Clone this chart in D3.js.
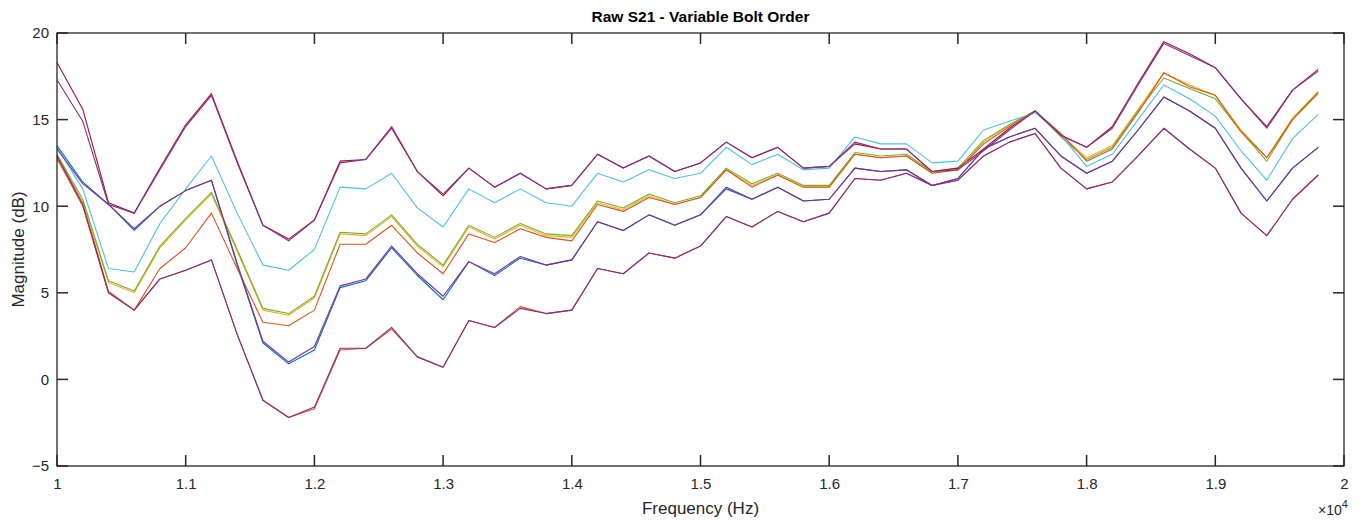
<!DOCTYPE html>
<html>
<head>
<meta charset="utf-8">
<script src="https://cdn.jsdelivr.net/npm/d3@7"></script>
<style>
  html, body { margin: 0; padding: 0; background: #fff; }
  svg { display: block; font-family: "Liberation Sans", Arial, Helvetica, sans-serif; }
</style>
</head>
<body>
<svg id="chart" width="1362" height="520"></svg>
<script>
// ---- Data ----
const freqStartHz = 10000;
const freqStepHz = 200;
const pointCount = 50;
const xTicks = [1, 1.1, 1.2, 1.3, 1.4, 1.5, 1.6, 1.7, 1.8, 1.9, 2];
const yTicks = [-5, 0, 5, 10, 15, 20];
const titleText = "Raw S21 - Variable Bolt Order";
const xLabelText = "Frequency (Hz)";
const yLabelText = "Magnitude (dB)";

const seriesBlueA   = [13.5,11.4,10.1,8.6,10.0,10.9,11.5,6.6,2.1,0.9,1.7,5.3,5.7,7.6,6.0,4.6,6.8,6.0,7.0,6.6,6.9,9.1,8.6,9.5,8.9,9.5,11.0,10.4,11.1,10.3,10.4,12.2,12.0,12.1,11.2,11.6,13.3,14.0,14.5,12.9,11.9,12.6,14.4,16.3,15.5,14.5,12.2,10.3,12.2,13.4];
const seriesOrangeA = [12.9,10.2,5.1,4.0,5.8,6.3,6.9,2.6,-1.2,-2.2,-1.7,1.7,1.8,2.9,1.3,0.7,3.4,3.0,4.2,3.8,4.0,6.4,6.1,7.3,7.0,7.7,9.4,8.8,9.7,9.1,9.6,11.6,11.5,11.9,11.2,11.5,12.9,13.7,14.2,12.2,11.0,11.4,12.9,14.5,13.3,12.2,9.6,8.3,10.4,11.8];
const seriesYellow  = [12.7,10.2,5.6,5.0,7.6,9.2,10.7,7.4,4.0,3.7,4.7,8.4,8.3,9.4,7.7,6.5,8.8,8.1,8.9,8.3,8.2,10.2,9.8,10.6,10.1,10.5,12.1,11.2,11.8,11.1,11.1,13.0,12.8,12.9,11.9,12.1,13.7,14.7,15.5,14.1,12.8,13.5,15.6,17.7,17.0,16.4,14.4,12.8,15.1,16.6];
const seriesPurpleA = [17.3,14.9,10.1,9.6,12.1,14.6,16.4,12.5,8.9,8.0,9.2,12.5,12.7,14.6,12.0,10.7,12.2,11.1,11.9,11.0,11.2,13.0,12.2,12.9,12.0,12.5,13.7,12.8,13.4,12.2,12.3,13.7,13.3,13.3,12.0,12.1,13.2,14.4,15.5,14.1,13.4,14.5,17.0,19.4,18.7,18.0,16.2,14.5,16.7,17.8];
const seriesGreen   = [13.0,10.4,5.7,5.1,7.7,9.3,10.8,7.5,4.1,3.8,4.8,8.5,8.4,9.5,7.8,6.6,8.9,8.2,9.0,8.4,8.3,10.3,9.9,10.7,10.2,10.6,12.2,11.3,11.9,11.2,11.2,13.1,12.9,13.0,12.0,12.2,13.8,14.7,15.5,14.0,12.7,13.4,15.5,17.4,16.8,16.2,14.3,12.6,15.0,16.5];
const seriesLightBlue = [13.4,11.0,6.4,6.2,9.0,11.0,12.9,9.6,6.6,6.3,7.5,11.1,11.0,11.9,9.9,8.8,11.0,10.2,11.0,10.2,10.0,11.9,11.4,12.1,11.6,11.9,13.4,12.4,13.0,12.1,12.2,14.0,13.6,13.6,12.5,12.6,14.4,14.9,15.4,14.1,12.3,13.0,15.0,17.0,16.2,15.2,13.2,11.5,13.9,15.3];
const seriesDarkRed = [18.3,15.6,10.2,9.6,12.2,14.7,16.5,12.6,8.9,8.1,9.2,12.6,12.7,14.5,12.0,10.6,12.2,11.1,11.9,11.0,11.2,13.0,12.2,12.9,12.0,12.5,13.7,12.8,13.4,12.2,12.3,13.6,13.3,13.3,12.0,12.2,13.3,14.5,15.5,14.1,13.4,14.6,17.1,19.5,18.8,18.0,16.2,14.6,16.7,17.9];
const seriesOrangeB = [12.8,10.0,5.0,4.0,6.4,7.6,9.6,6.4,3.3,3.1,4.0,7.8,7.8,8.9,7.3,6.1,8.4,7.9,8.7,8.2,8.0,10.1,9.7,10.5,10.1,10.5,12.1,11.1,11.8,11.1,11.1,13.0,12.8,12.9,11.9,12.1,13.6,14.6,15.5,14.2,12.6,13.3,15.4,17.7,16.9,16.4,14.3,12.8,15.0,16.6];
const seriesPurpleB = [13.3,11.3,10.1,8.7,10.0,10.9,11.5,6.7,2.2,1.0,1.9,5.4,5.8,7.7,6.1,4.8,6.8,6.1,7.1,6.6,6.9,9.1,8.6,9.5,8.9,9.5,11.1,10.4,11.1,10.3,10.4,12.2,12.0,12.1,11.2,11.6,13.3,14.0,14.5,12.9,11.9,12.6,14.4,16.3,15.5,14.5,12.2,10.3,12.2,13.4];
const seriesPurpleC = [12.9,10.1,5.0,4.0,5.8,6.3,6.9,2.6,-1.2,-2.2,-1.6,1.8,1.8,3.0,1.3,0.7,3.4,3.0,4.1,3.8,4.0,6.4,6.1,7.3,7.0,7.7,9.4,8.8,9.7,9.1,9.6,11.6,11.5,11.9,11.2,11.5,12.9,13.7,14.2,12.2,11.0,11.4,12.9,14.5,13.3,12.2,9.6,8.3,10.4,11.8];

const seriesList = [
  { values: seriesBlueA,    color: "#0072BD" },
  { values: seriesOrangeA,  color: "#D95319" },
  { values: seriesYellow,   color: "#EDB120" },
  { values: seriesGreen,    color: "#77AC30" },
  { values: seriesLightBlue,color: "#4DBEEE" },
  { values: seriesDarkRed,  color: "#A2142F" },
  { values: seriesOrangeB,  color: "#D95319" },
  { values: seriesPurpleA,  color: "#7E2F8E" },
  { values: seriesPurpleB,  color: "#7E2F8E" },
  { values: seriesPurpleC,  color: "#7E2F8E" }
];
const freqs = d3.range(pointCount).map(i => (freqStartHz + i * freqStepHz) / 1e4);

// ---- Layout ----
const svg = d3.select("#chart");
const L = 57, R = 1344, T = 33, B = 466;
const x = d3.scaleLinear().domain([1, 2]).range([L, R]);
const y = d3.scaleLinear().domain([-5, 20]).range([B, T]);
const axisColor = "#262626";
const tickLen = 11;

svg.append("rect").attr("x", L).attr("y", T).attr("width", R - L).attr("height", B - T).attr("fill", "#fff");

// lines
const line = d3.line().x((d, i) => x(freqs[i])).y(d => y(d));
svg.append("g").selectAll("path").data(seriesList).join("path")
  .attr("d", s => line(s.values))
  .attr("fill", "none")
  .attr("stroke", s => s.color)
  .attr("stroke-width", 1.1)
  .attr("stroke-linejoin", "round");

// box
svg.append("rect").attr("x", L).attr("y", T).attr("width", R - L).attr("height", B - T)
  .attr("fill", "none").attr("stroke", axisColor).attr("stroke-width", 1.3);

// inward tick marks from the scales
const tickG = svg.append("g").attr("stroke", axisColor).attr("stroke-width", 1.5);
tickG.selectAll("line.xb").data(xTicks).join("line").attr("class", "xb")
  .attr("x1", d => x(d)).attr("x2", d => x(d)).attr("y1", B).attr("y2", B - tickLen);
tickG.selectAll("line.xt").data(xTicks).join("line").attr("class", "xt")
  .attr("x1", d => x(d)).attr("x2", d => x(d)).attr("y1", T).attr("y2", T + tickLen);
tickG.selectAll("line.yl").data(yTicks).join("line").attr("class", "yl")
  .attr("y1", d => y(d)).attr("y2", d => y(d)).attr("x1", L).attr("x2", L + tickLen);
tickG.selectAll("line.yr").data(yTicks).join("line").attr("class", "yr")
  .attr("y1", d => y(d)).attr("y2", d => y(d)).attr("x1", R).attr("x2", R - tickLen);

// tick labels via d3 axes
function styleLabels(g) {
  g.select(".domain").remove();
  g.selectAll(".tick line").remove();
  g.selectAll("text").attr("fill", axisColor).style("font-size", "15px");
}
svg.append("g").attr("transform", `translate(0,${B})`)
  .call(d3.axisBottom(x).tickValues(xTicks).tickSize(0).tickPadding(12).tickFormat(d => d3.format("~g")(d))).call(styleLabels);
svg.append("g").attr("transform", `translate(${L},0)`)
  .call(d3.axisLeft(y).tickValues(yTicks).tickSize(0).tickPadding(8).tickFormat(d3.format("d"))).call(styleLabels);

// title & labels
svg.append("text").attr("x", (L + R) / 2).attr("y", 22).attr("text-anchor", "middle")
  .attr("fill", "#000").style("font-size", "15.5px").style("font-weight", "bold").text(titleText);
svg.append("text").attr("x", (L + R) / 2).attr("y", 514).attr("text-anchor", "middle")
  .attr("fill", axisColor).style("font-size", "17px").text(xLabelText);
svg.append("text").attr("transform", `translate(24,${(T + B) / 2}) rotate(-90)`).attr("text-anchor", "middle")
  .attr("fill", axisColor).style("font-size", "17px").text(yLabelText);
const mult = svg.append("text").attr("x", 1318).attr("y", 515).attr("fill", axisColor).style("font-size", "14px");
mult.append("tspan").text("×10");
mult.append("tspan").attr("dy", -7).style("font-size", "11px").text("4");
</script>
</body>
</html>
